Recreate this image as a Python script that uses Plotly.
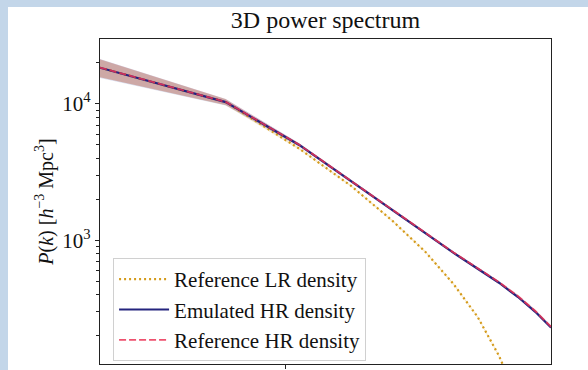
import plotly.graph_objects as go

# ---- data ----
k = [0.036, 0.072, 0.108, 0.144, 0.181, 0.217, 0.253, 0.289, 0.325, 0.361, 0.397, 0.433]
p_lr = [18400, 10300, 4700, 2500, 1383, 820, 479, 275, 143, 68, 30, 13]
p_emu = [18400, 10300, 5000, 2700, 1650, 1120, 810, 620, 490, 385, 300, 230]
p_hr = [18450, 10330, 5020, 2715, 1660, 1128, 816, 626, 495, 390, 304, 233]
err_lr = [0.15, 0.05, 0.02, 0.015, 0.015, 0.015, 0.015, 0.015, 0.015, 0.015, 0.015, 0.015]
err_emu = [0.16, 0.055, 0.03, 0.025, 0.022, 0.02, 0.02, 0.02, 0.02, 0.02, 0.02, 0.02]
err_hr = [0.15, 0.05, 0.025, 0.022, 0.02, 0.02, 0.02, 0.02, 0.02, 0.025, 0.025, 0.025]

y_major = [1e3, 1e4]
y_major_text = ["10<sup>3</sup>", "10<sup>4</sup>"]
y_minor = [m * 10 ** e for e in (2, 3, 4) for m in range(2, 10)]
x_major = [0.1]

labels = ["Reference LR density", "Emulated HR density", "Reference HR density"]

SERIF = "Liberation Serif, DejaVu Serif, serif"
W, H = 588, 370
L, R, T, B = 92, 45, 31, 10

fig = go.Figure()


def band(vals, err, color):
    hi = [v * (1 + e) for v, e in zip(vals, err)]
    lo = [v * (1 - e) for v, e in zip(vals, err)]
    fig.add_trace(go.Scatter(x=k, y=hi, mode="lines", line=dict(width=0), showlegend=False,
                             hoverinfo="skip"))
    fig.add_trace(go.Scatter(x=k, y=lo, mode="lines", line=dict(width=0), fill="tonexty",
                             fillcolor=color, showlegend=False, hoverinfo="skip"))


band(p_lr, err_lr, "rgba(218,165,32,0.22)")
band(p_emu, err_emu, "rgba(70,90,180,0.2)")
band(p_hr, err_hr, "rgba(190,50,60,0.24)")

fig.add_trace(go.Scatter(x=k, y=p_lr, mode="lines", name=labels[0],
                         line=dict(color="#d49a1a", width=2.2, dash="2px,3px")))
fig.add_trace(go.Scatter(x=k, y=p_emu, mode="lines", name=labels[1],
                         line=dict(color="#24247e", width=2.2)))
fig.add_trace(go.Scatter(x=k, y=p_hr, mode="lines", name=labels[2],
                         line=dict(color="rgba(235,50,85,0.85)", width=1.8, dash="7px,3px")))

fig.update_layout(
    width=W, height=H,
    margin=dict(l=L, r=R, t=T, b=B),
    paper_bgcolor="white",
    plot_bgcolor="white",
    font=dict(family=SERIF, color="#111", size=19),
    title=dict(text="3D power spectrum", x=0.5, xref="paper", xanchor="center",
               y=1 - 12 / H, yref="container", yanchor="middle",
               font=dict(family=SERIF, size=24, color="#111")),
    showlegend=True,
    legend=dict(x=0.029, y=0.009, xanchor="left", yanchor="bottom",
                bgcolor="rgba(255,255,255,0.85)", bordercolor="#d0d0d0", borderwidth=1,
                font=dict(family=SERIF, size=21, color="#111"),
                itemwidth=50, traceorder="normal"),
)

fig.update_xaxes(type="log", range=[-1.4437, -0.3635],
                 showline=True, mirror=True, linecolor="#222", linewidth=1.2,
                 showgrid=False, zeroline=False,
                 tickmode="array", tickvals=x_major, showticklabels=False,
                 ticks="outside", ticklen=4, tickwidth=1, tickcolor="#222")

fig.update_yaxes(type="log", range=[2.095, 4.475],
                 showline=True, mirror=True, linecolor="#222", linewidth=1.2,
                 showgrid=False, zeroline=False,
                 tickmode="array", tickvals=y_major, ticktext=y_major_text,
                 ticks="outside", ticklen=4, tickwidth=1, tickcolor="#222",
                 tickfont=dict(family=SERIF, size=21, color="#111"),
                 minor=dict(tickmode="array", tickvals=y_minor, ticks="outside",
                            ticklen=2.5, tickwidth=0.8, tickcolor="#222", showgrid=False),
                 title=dict(text="<i>P</i>(<i>k</i>) [<i>h</i><sup>−3</sup> Mpc<sup>3</sup>]",
                            font=dict(family=SERIF, size=20, color="#111"), standoff=3))

fig.write_html(
    "out.html",
    post_script=(
        "var s=document.documentElement.style;"
        "s.background='linear-gradient(to right,#c3d6e9 8px,rgba(0,0,0,0) 8px),"
        "linear-gradient(to bottom,#c3d6e9 7px,#ffffff 7px)';"
        "s.overflow='hidden';document.body.style.overflow='hidden';"
    ),
)
